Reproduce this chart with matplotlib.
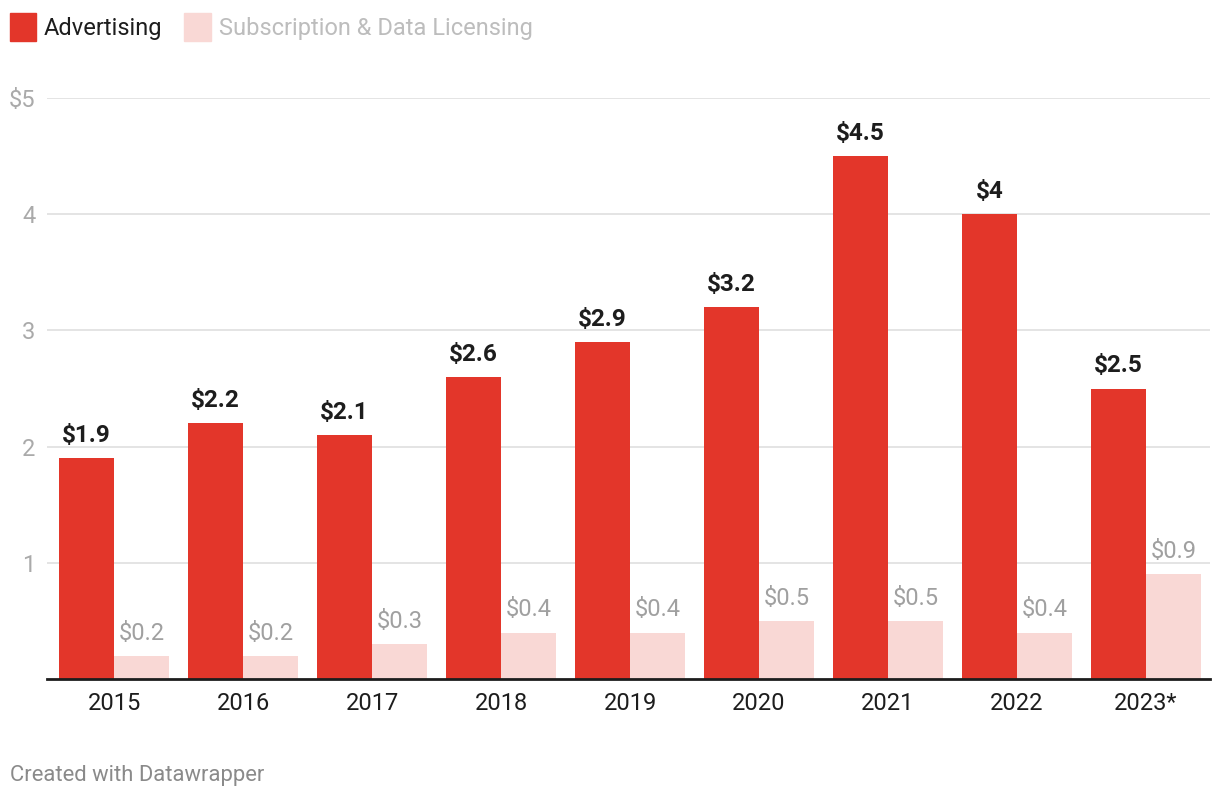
import numpy as np
import matplotlib.pyplot as plt
from matplotlib.patches import Rectangle

plt.rcParams['font.family'] = ['Roboto', 'DejaVu Sans']

# Datos
years = ['2015', '2016', '2017', '2018', '2019', '2020', '2021', '2022', '2023*']
advertising = [1.9, 2.2, 2.1, 2.6, 2.9, 3.2, 4.5, 4.0, 2.5]
subscription = [0.2, 0.2, 0.3, 0.4, 0.4, 0.5, 0.5, 0.4, 0.9]
yticks = [1, 2, 3, 4, 5]
ytick_labels = ['1', '2', '3', '4', '$5']

red = '#e3362a'
pink = '#f9d8d5'

fig = plt.figure(figsize=(12.2, 8), dpi=100)
ax = fig.add_axes([47 / 1220, 1 - 679 / 800, (1210 - 47) / 1220, (679 - 98) / 800])

x = np.arange(len(years))
w = 0.426
b1 = ax.bar(x - w / 2, advertising, w, color=red, zorder=3)
b2 = ax.bar(x + w / 2, subscription, w, color=pink, zorder=3)

for rect, v in zip(b1, advertising):
    ax.annotate(f'${v:g}', (rect.get_x() + rect.get_width() / 2, v),
                xytext=(0, 8), textcoords='offset points', ha='center', va='bottom',
                fontsize=17.5, fontweight='bold', color='#1d1d1d')
for rect, v in zip(b2, subscription):
    ax.annotate(f'${v:g}', (rect.get_x() + rect.get_width() / 2, v),
                xytext=(0, 8), textcoords='offset points', ha='center', va='bottom',
                fontsize=17, color='#a0a0a0')

ax.set_xlim(-0.52, 8.496)
ax.set_ylim(0, 5)
ax.set_yticks(yticks)
ax.set_yticklabels(ytick_labels, fontsize=17, color='#aaaaaa')
ax.set_xticks(x)
ax.set_xticklabels(years, fontsize=17, color='#1d1d1d')
ax.tick_params(axis='y', length=0, pad=8.5)
ax.tick_params(axis='x', length=0, pad=9)
ax.grid(axis='y', color='#e2e2e2', linewidth=1.3, zorder=0)
for s in ['top', 'right', 'left']:
    ax.spines[s].set_visible(False)
ax.spines['bottom'].set_color('#1d1d1d')
ax.spines['bottom'].set_linewidth(2)
ax.spines['bottom'].set_zorder(4)

# Leyenda manual
fig.patches.append(Rectangle((10 / 1220, 1 - 41 / 800), 26 / 1220, 28 / 800,
                             transform=fig.transFigure, color=red))
fig.text(44 / 1220, 1 - 28 / 800, 'Advertising', fontsize=17, color='#1d1d1d', va='center')
fig.patches.append(Rectangle((184 / 1220, 1 - 41 / 800), 27 / 1220, 28 / 800,
                             transform=fig.transFigure, color=pink))
fig.text(219 / 1220, 1 - 28 / 800, 'Subscription & Data Licensing', fontsize=17,
         color='#bdbdbd', va='center')

fig.text(10 / 1220, 1 - 776 / 800, 'Created with Datawrapper', fontsize=15.8,
         color='#8a8a8a', va='center')

fig.savefig('out.png', dpi=100)
